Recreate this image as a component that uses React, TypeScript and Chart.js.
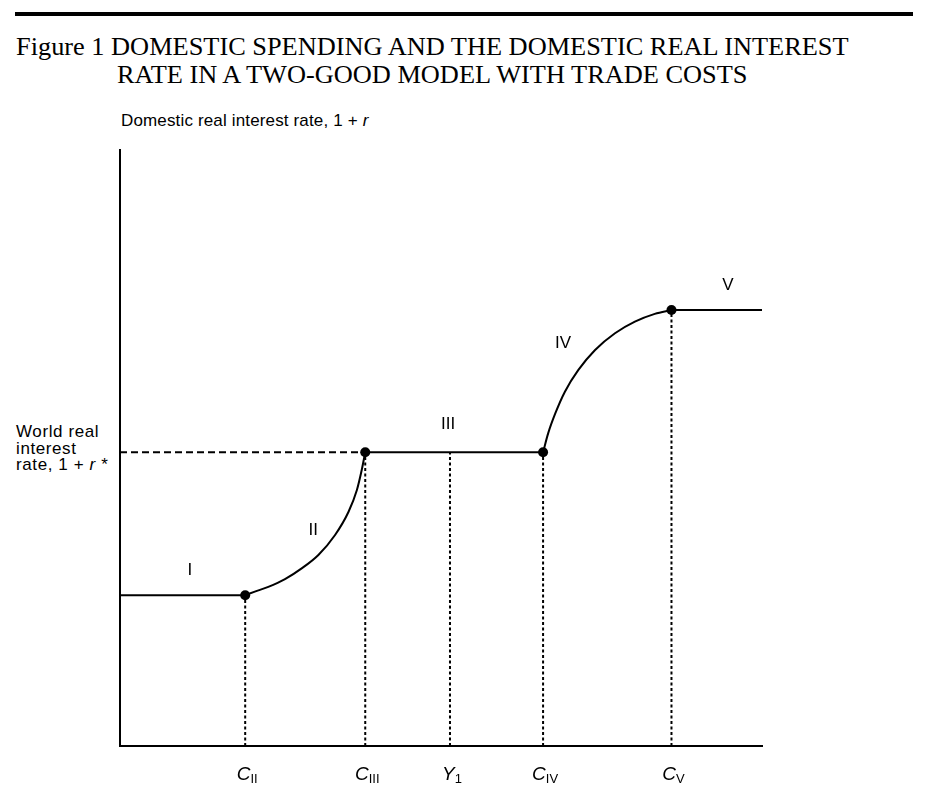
import React, { useEffect, useRef } from 'react';
import { Chart, registerables } from 'chart.js';

Chart.register(...registerables);

// thresholds on the spending axis: C_II, C_III, Y_1, C_IV, C_V
const tickMain = ['C', 'C', 'Y', 'C', 'C'];
const tickSub = ['II', 'III', '1', 'IV', 'V'];
const tickValues = [19.5, 38.2, 51.4, 65.9, 85.9];

// interest rate levels of the flat regions
const rateLow = 25.3; // region I
const rateWorld = 49.3; // region III, world rate 1 + r*
const rateHigh = 73.15; // region V

const xMax = 100;
const yMax = 100;

// rising regions
const regionIIx = [19.5, 21.0, 23.1, 25.7, 28.3, 30.9, 33.5, 35.6, 36.9, 37.65, 38.2];
const regionIIy = [25.3, 25.9, 26.7, 28.0, 29.8, 32.05, 35.4, 39.3, 42.95, 46.3, 49.3];
const regionIVx = [65.9, 66.7, 67.8, 69.3, 71.4, 74.0, 77.1, 80.2, 83.3, 85.9];
const regionIVy = [49.3, 52.5, 55.8, 59.45, 63.1, 66.45, 69.25, 71.2, 72.5, 73.15];

const regionNames = ['I', 'II', 'III', 'IV', 'V'];

// where the region names sit (data units)
const regionLabelAnchor = [
  [10.9, 29.5],
  [30.1, 36.2],
  [51.1, 53.9],
  [69.0, 67.6],
  [94.7, 77.3],
];

const SANS = '"Liberation Sans", Arial, Helvetica, sans-serif';
const SERIF = '"Liberation Serif", "Times New Roman", serif';

const labelPlugin = {
  id: 'schemeLabels',
  afterDraw(chart: any) {
    const { ctx } = chart;
    const x = chart.scales.x;
    const y = chart.scales.y;
    ctx.save();
    ctx.fillStyle = '#000';

    // region names
    ctx.font = `17px ${SANS}`;
    ctx.textAlign = 'center';
    ctx.textBaseline = 'middle';
    regionNames.forEach((name, i) => {
      ctx.fillText(name, x.getPixelForValue(regionLabelAnchor[i][0]), y.getPixelForValue(regionLabelAnchor[i][1]));
    });

    // tick labels with subscripts
    ctx.textAlign = 'left';
    ctx.textBaseline = 'alphabetic';
    const base = y.bottom + 34;
    tickValues.forEach((v, i) => {
      ctx.font = `italic 19px ${SANS}`;
      const wMain = ctx.measureText(tickMain[i]).width;
      ctx.font = `13px ${SANS}`;
      const wSub = ctx.measureText(tickSub[i]).width;
      const left = x.getPixelForValue(v) - (wMain + wSub) / 2 + 2;
      ctx.font = `italic 19px ${SANS}`;
      ctx.fillText(tickMain[i], left, base);
      ctx.font = `13px ${SANS}`;
      ctx.fillText(tickSub[i], left + wMain, base + 3);
    });
    ctx.restore();
  },
};

const App: React.FC = () => {
  const canvasRef = useRef<HTMLCanvasElement>(null);
  const chartRef = useRef<Chart | null>(null);

  useEffect(() => {
    if (!canvasRef.current) return;
    const ctx = canvasRef.current.getContext('2d');
    if (!ctx) return;
    if (chartRef.current) chartRef.current.destroy();

    const solid = {
      borderColor: '#000',
      borderWidth: 2,
      pointRadius: 0,
      showLine: true,
      fill: false,
    };

    const dropLevels = [rateLow, rateWorld, rateWorld, rateWorld, rateHigh];
    const kinks = [0, 1, 3, 4].map((i) => ({ x: tickValues[i], y: dropLevels[i] }));

    chartRef.current = new Chart(ctx, {
      type: 'scatter',
      data: {
        datasets: [
          {
            data: kinks,
            pointRadius: 5,
            pointBackgroundColor: '#000',
            pointBorderWidth: 0,
            showLine: false,
          },
          { ...solid, data: [{ x: 0, y: rateLow }, { x: tickValues[0], y: rateLow }] },
          {
            ...solid,
            cubicInterpolationMode: 'monotone',
            data: regionIIx.map((v, i) => ({ x: v, y: regionIIy[i] })),
          },
          { ...solid, data: [{ x: tickValues[1], y: rateWorld }, { x: tickValues[3], y: rateWorld }] },
          {
            ...solid,
            cubicInterpolationMode: 'monotone',
            data: regionIVx.map((v, i) => ({ x: v, y: regionIVy[i] })),
          },
          { ...solid, data: [{ x: tickValues[4], y: rateHigh }, { x: xMax, y: rateHigh }] },
          {
            ...solid,
            borderDash: [7, 4],
            data: [{ x: 0, y: rateWorld }, { x: tickValues[1], y: rateWorld }],
          },
          ...tickValues.map((v, i) => ({
            ...solid,
            borderDash: [3, 2.5],
            data: [{ x: v, y: 0 }, { x: v, y: dropLevels[i] }],
          })),
        ] as any,
      },
      options: {
        animation: false,
        responsive: false,
        maintainAspectRatio: false,
        layout: { padding: { left: 120, right: 165, top: 150, bottom: 58 } },
        plugins: {
          legend: { display: false },
          tooltip: { enabled: false },
          title: { display: false },
        },
        scales: {
          x: {
            type: 'linear',
            min: 0,
            max: xMax,
            grid: { display: false, drawTicks: false },
            ticks: { display: false },
            border: { display: true, color: '#000', width: 2 },
            afterBuildTicks: (s: any) => {
              s.ticks = tickValues.map((v) => ({ value: v }));
            },
            afterFit: (s: any) => {
              s.height = 0;
            },
          },
          y: {
            type: 'linear',
            min: 0,
            max: yMax,
            grid: { display: false, drawTicks: false },
            ticks: { display: false },
            border: { display: true, color: '#000', width: 2 },
            afterFit: (s: any) => {
              s.width = 0;
            },
          },
        },
      } as any,
      plugins: [labelPlugin],
    });

    return () => {
      if (chartRef.current) {
        chartRef.current.destroy();
        chartRef.current = null;
      }
    };
  }, []);

  const titleLine: React.CSSProperties = {
    position: 'absolute',
    fontFamily: SERIF,
    fontSize: 24.5,
    lineHeight: '28px',
    whiteSpace: 'nowrap',
    color: '#000',
    transform: 'scaleX(1.075)',
    transformOrigin: 'left center',
  };
  const sansText: React.CSSProperties = {
    position: 'absolute',
    fontFamily: SANS,
    fontSize: 17,
    whiteSpace: 'nowrap',
    color: '#000',
  };

  return (
    <div style={{ position: 'absolute', left: 0, top: 0, width: 927, height: 804, background: '#fff', overflow: 'hidden' }}>
      <div style={{ position: 'absolute', left: 15, top: 12, width: 898, height: 4, background: '#000' }} />
      <div style={{ ...titleLine, left: 16, top: 33 }}>Figure 1 DOMESTIC SPENDING AND THE DOMESTIC REAL INTEREST</div>
      <div style={{ ...titleLine, left: 117, top: 61 }}>RATE IN A TWO-GOOD MODEL WITH TRADE COSTS</div>
      <div style={{ ...sansText, left: 121, top: 112, lineHeight: '18px', letterSpacing: '0.15px' }}>
        Domestic real interest rate, 1 + <i>r</i>
      </div>
      <div style={{ ...sansText, left: 16, top: 424, lineHeight: '16.5px', letterSpacing: '0.6px' }}>
        World real
        <br />
        interest
        <br />
        rate, 1 + <i>r</i> *
      </div>
      <canvas ref={canvasRef} width={927} height={804} style={{ position: 'absolute', left: 0, top: 0 }} />
    </div>
  );
};

export default App;
